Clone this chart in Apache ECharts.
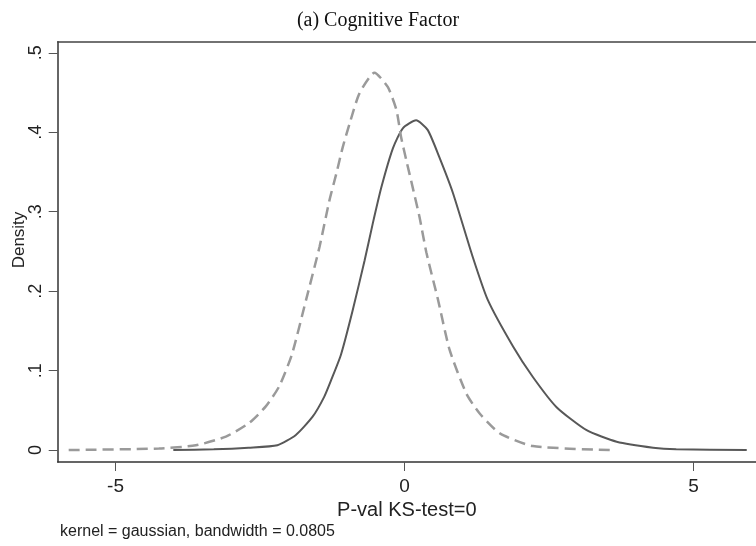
<!DOCTYPE html>
<html>
<head>
<meta charset="utf-8">
<script src="https://cdn.jsdelivr.net/npm/echarts@6/dist/echarts.min.js"></script>
<style>
  html, body { margin: 0; padding: 0; background: #fff; }
  #chart { width: 756px; height: 546px; }
</style>
</head>
<body>
<div id="chart"></div>
<script>
// kernel density, solid line
const solidX = [-4.0, -3.3, -2.7, -2.2, -1.88, -1.59, -1.39, -1.27, -1.1, -0.9, -0.69, -0.55, -0.4, -0.2, -0.03, 0.2, 0.4, 0.6, 0.84, 1.18, 1.44, 1.88, 2.22, 2.63, 3.15, 3.67, 4.3, 4.7, 5.92];
const solidY = [0, 0.001, 0.003, 0.006, 0.019, 0.042, 0.067, 0.088, 0.12, 0.175, 0.239, 0.285, 0.331, 0.38, 0.405, 0.415, 0.403, 0.369, 0.323, 0.243, 0.189, 0.13, 0.092, 0.054, 0.025, 0.0105, 0.003, 0.001, 0];

// kernel density, dashed line
const dashX = [-5.81, -4.25, -3.61, -3.09, -2.69, -2.4, -2.17, -1.95, -1.7, -1.47, -1.3, -1.18, -1.07, -0.95, -0.78, -0.52, -0.29, -0.14, -0.06, 0.03, 0.14, 0.26, 0.38, 0.58, 0.78, 1.07, 1.3, 1.65, 2.22, 3.55];
const dashY = [0, 0.002, 0.006, 0.017, 0.034, 0.055, 0.08, 0.12, 0.19, 0.256, 0.314, 0.348, 0.381, 0.411, 0.449, 0.475, 0.457, 0.428, 0.394, 0.365, 0.331, 0.293, 0.248, 0.189, 0.126, 0.071, 0.046, 0.021, 0.005, 0];

const xTicks = [-5, 0, 5];
const yTicks = [0, 0.1, 0.2, 0.3, 0.4, 0.5];
const yTickLabels = ['0', '.1', '.2', '.3', '.4', '.5'];

const chart = echarts.init(document.getElementById('chart'));

const pairs = (xs, ys) => xs.map((x, i) => [x, ys[i]]);

const option = {
  animation: false,
  title: {
    text: '(a) Cognitive Factor',
    left: 'center',
    top: 6,
    textStyle: {
      fontFamily: 'Liberation Serif',
      fontSize: 20,
      fontWeight: 'normal',
      color: '#111'
    }
  },
  grid: {
    left: 57.7,
    top: 41.7,
    right: 0,
    bottom: 84,
    containLabel: false
  },
  xAxis: [
    {
      type: 'value',
      min: -6,
      max: 6.08,
      name: 'P-val KS-test=0',
      nameLocation: 'middle',
      nameGap: 34,
      nameTextStyle: { fontFamily: 'Liberation Sans', fontSize: 20, color: '#222' },
      axisLine: { show: true, onZero: false, lineStyle: { color: '#333', width: 1.5 } },
      axisTick: { show: true, length: 9, customValues: xTicks, lineStyle: { color: '#555' } },
      axisLabel: {
        customValues: xTicks,
        margin: 15,
        fontFamily: 'Liberation Sans',
        fontSize: 19,
        color: '#222'
      },
      splitLine: { show: false }
    },
    {
      // top frame line only
      type: 'value',
      position: 'top',
      min: -6,
      max: 6.08,
      axisLine: { show: true, onZero: false, lineStyle: { color: '#444', width: 1.5 } },
      axisTick: { show: false },
      axisLabel: { show: false },
      splitLine: { show: false }
    }
  ],
  yAxis: {
    type: 'value',
    min: -0.015,
    max: 0.514,
    axisLine: { show: true, onZero: false, lineStyle: { color: '#333', width: 1.5 } },
    axisTick: { show: true, length: 9, customValues: yTicks, lineStyle: { color: '#555' } },
    axisLabel: {
      customValues: yTicks,
      rotate: 90,
      margin: 13,
      fontFamily: 'Liberation Sans',
      fontSize: 18,
      color: '#222',
      formatter: v => {
        const i = yTicks.findIndex(t => Math.abs(t - v) < 1e-9);
        return i >= 0 ? yTickLabels[i] : '';
      }
    },
    splitLine: { show: false }
  },
  graphic: [
    {
      type: 'text',
      x: 19,
      y: 240,
      rotation: Math.PI / 2,
      style: {
        text: 'Density',
        fontFamily: 'Liberation Sans',
        fontSize: 17,
        fill: '#222',
        align: 'center',
        verticalAlign: 'middle'
      }
    },
    {
      type: 'text',
      left: 60,
      top: 524,
      style: {
        text: 'kernel = gaussian, bandwidth = 0.0805',
        fontFamily: 'Liberation Sans',
        fontSize: 16,
        fill: '#222'
      }
    }
  ],
  series: [
    {
      name: 'solid',
      type: 'line',
      data: pairs(solidX, solidY),
      showSymbol: false,
      smooth: 0.2,
      lineStyle: { color: '#585858', width: 2 }
    },
    {
      name: 'dashed',
      type: 'line',
      data: pairs(dashX, dashY),
      showSymbol: false,
      smooth: 0.2,
      lineStyle: { color: '#9a9a9a', width: 2.5, type: [11, 6] }
    }
  ]
};

chart.setOption(option);
</script>
</body>
</html>
